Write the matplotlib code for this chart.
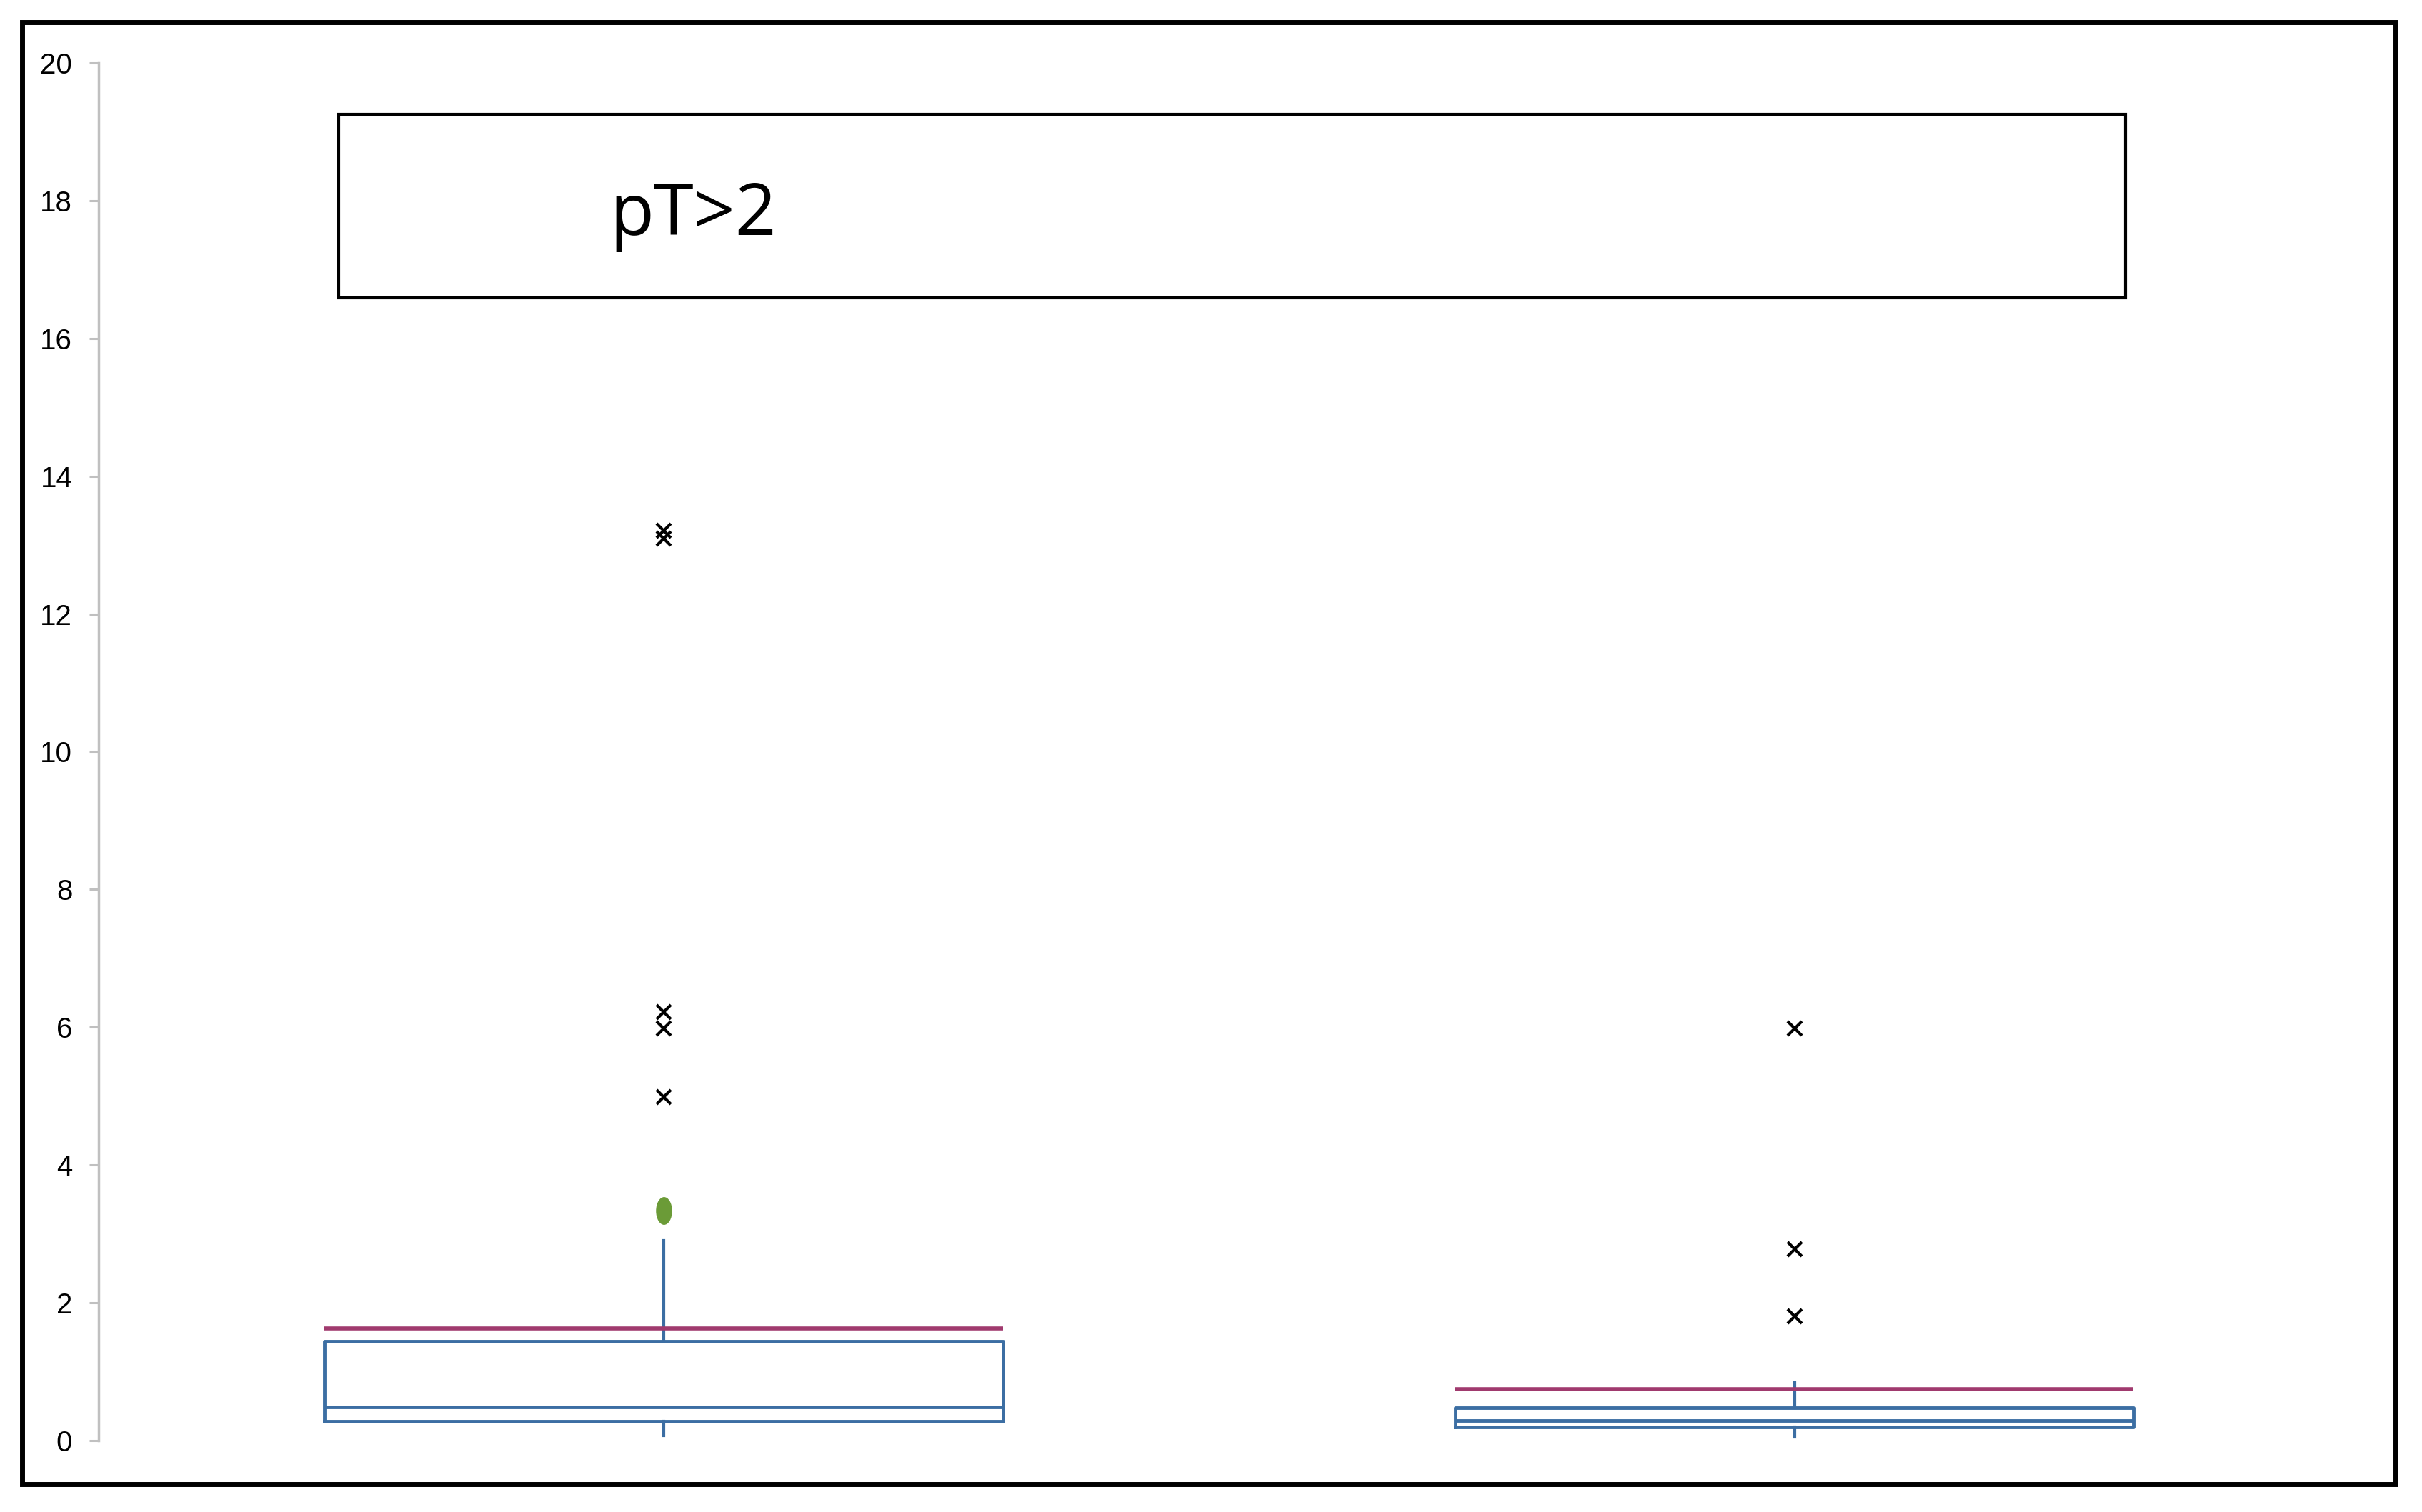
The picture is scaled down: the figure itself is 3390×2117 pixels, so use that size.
import numpy as np
import matplotlib.pyplot as plt
from matplotlib.path import Path
from matplotlib.patches import Rectangle

# values
positions = [1, 2]
whislo = [0.07, 0.05]
q1 = [0.277, 0.197]
med = [0.484, 0.284]
q3 = [1.435, 0.477]
whishi = [2.898, 0.837]
means = [1.625, 0.744]
fliers = [[13.1, 13.21, 5.98, 6.22, 4.98], [5.98, 2.78, 1.80]]
extreme_x = [1]
extreme_y = [3.34]
yticks = [0, 2, 4, 6, 8, 10, 12, 14, 16, 18, 20]
label = "pT>2"

blue = '#3c6ea3'
magenta = '#a03a6e'
green = '#6b9b37'

fig = plt.figure(figsize=(33.9, 21.17), dpi=100)
ax = fig.add_axes([0.0407, 0.0474, 0.9336, 0.9109])

stats = []
for i in range(len(positions)):
    stats.append(dict(whislo=whislo[i], q1=q1[i], med=med[i], q3=q3[i],
                      whishi=whishi[i], mean=means[i], fliers=fliers[i]))

ax.bxp(stats, positions=positions, widths=0.6, showcaps=False,
       showmeans=True, meanline=True, showfliers=True,
       boxprops=dict(color=blue, linewidth=3.5),
       whiskerprops=dict(color=blue, linewidth=3),
       medianprops=dict(color=blue, linewidth=3.5),
       meanprops=dict(color=magenta, linewidth=4, linestyle='-'),
       flierprops=dict(marker='x', markersize=14, markeredgewidth=3,
                       markeredgecolor='black', linestyle='none'))

# tall green oval marker
circ = Path.unit_circle()
oval = Path(circ.vertices * np.array([0.58, 1.0]), circ.codes)
ax.plot(extreme_x, extreme_y, linestyle='none', marker=oval, markersize=28,
        color=green, markeredgewidth=0)

ax.set_xlim(0.5, 2.5)
ax.set_ylim(0, 20)
ax.set_yticks(yticks)
ax.set_xticks([])
for s in ['top', 'right', 'bottom']:
    ax.spines[s].set_visible(False)
ax.spines['left'].set_color('#c0c0c0')
ax.spines['left'].set_linewidth(2.5)
ax.tick_params(axis='y', length=9.5, width=2.2, color='#c0c0c0', pad=17,
               labelsize=29, labelcolor='black')
for t in ax.get_yticklabels():
    t.set_family('Liberation Sans')

# label box
ax.add_patch(Rectangle((0.1061, 0.8295), 0.8965 - 0.1061, 0.963 - 0.8295,
                       transform=ax.transAxes, fill=False, edgecolor='black',
                       linewidth=3, zorder=5))
ax.text(0.2262, 0.875, label, transform=ax.transAxes, fontsize=73,
        family='Open Sans', va='baseline', ha='left', zorder=6)

# outer frame
fig.patches.append(Rectangle((0.0091, 0.0185), 0.989 - 0.0091, 0.9855 - 0.0185,
                             transform=fig.transFigure, fill=False,
                             edgecolor='black', linewidth=5))

fig.savefig('out.png', dpi=100)
